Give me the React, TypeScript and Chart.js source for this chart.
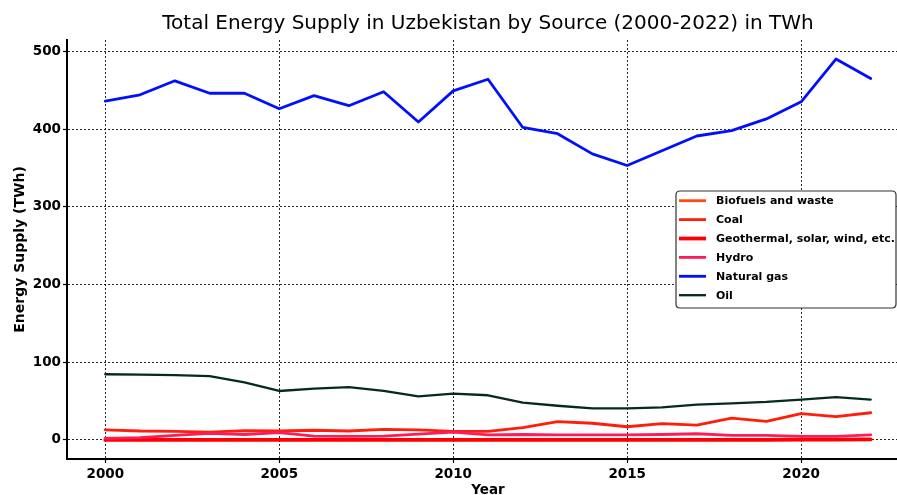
import { useEffect, useRef } from "react";
import { Chart, registerables } from "chart.js";

Chart.register(...registerables);

const years = [2000, 2001, 2002, 2003, 2004, 2005, 2006, 2007, 2008, 2009, 2010, 2011, 2012, 2013, 2014, 2015, 2016, 2017, 2018, 2019, 2020, 2021, 2022];

const biofuels = [0.4, 0.4, 0.4, 0.4, 0.4, 0.4, 0.4, 0.4, 0.4, 0.4, 0.4, 0.4, 0.4, 0.4, 0.4, 0.4, 0.4, 0.4, 0.4, 0.4, 0.4, 0.4, 0.4];
const coal = [13, 11.5, 11, 10, 12, 11.5, 12.5, 11.5, 13.5, 13, 11, 11, 16, 23.5, 21.5, 17, 21, 19, 28, 24, 34, 30, 35];
const geothermal = [0, 0, 0, 0, 0, 0, 0, 0, 0, 0, 0, 0, 0, 0, 0, 0, 0, 0, 0, 0, 0.3, 0.5, 0.8];
const hydro = [2, 3, 6, 8.5, 7, 9.5, 5, 4.5, 5, 7.5, 10, 6.5, 7, 6.5, 6.5, 6.5, 7, 8, 6, 6, 4.5, 4.5, 6.5];
const naturalGas = [436, 444, 462, 446, 446, 426, 443, 430, 448, 409, 449, 464, 402, 394, 368, 353, 372, 391, 398, 413, 435, 490, 465];
const oil = [84.5, 84, 83.5, 82, 74, 63, 66, 68, 63, 56, 59.5, 57.5, 48, 44, 40.5, 40.5, 42, 45.5, 47, 49, 52, 55, 52];

const seriesNames = ["Biofuels and waste", "Coal", "Geothermal, solar, wind, etc.", "Hydro", "Natural gas", "Oil"];
const seriesValues = [biofuels, coal, geothermal, hydro, naturalGas, oil];
const seriesColors = ["#ff4a10", "#ff1e0a", "#ff0000", "#ff1a5a", "#0010ff", "#062a1c"];
const seriesWidths = [2.8, 2.8, 3.8, 2.8, 2.8, 2.3];

const xTicks = [2000, 2005, 2010, 2015, 2020];
const yTicks = [0, 100, 200, 300, 400, 500];

const FONT = "DejaVu Sans";

const boxLegend = {
  id: "boxLegend",
  afterDraw(chart: any) {
    const { ctx, chartArea } = chart;
    const left = chartArea.right - 233;
    const top = chartArea.top + 151;
    const width = 220;
    const rowH = 18.9;
    const height = 117;
    ctx.save();
    ctx.beginPath();
    const r = 4;
    ctx.moveTo(left + r, top);
    ctx.lineTo(left + width - r, top);
    ctx.quadraticCurveTo(left + width, top, left + width, top + r);
    ctx.lineTo(left + width, top + height - r);
    ctx.quadraticCurveTo(left + width, top + height, left + width - r, top + height);
    ctx.lineTo(left + r, top + height);
    ctx.quadraticCurveTo(left, top + height, left, top + height - r);
    ctx.lineTo(left, top + r);
    ctx.quadraticCurveTo(left, top, left + r, top);
    ctx.closePath();
    ctx.fillStyle = "#ffffff";
    ctx.fill();
    ctx.lineWidth = 1.2;
    ctx.strokeStyle = "#333333";
    ctx.stroke();
    ctx.font = `bold 11px "${FONT}"`;
    ctx.textBaseline = "middle";
    ctx.textAlign = "left";
    chart.data.datasets.forEach((ds: any, i: number) => {
      const cy = top + 9.7 + i * rowH;
      ctx.beginPath();
      ctx.strokeStyle = ds.borderColor;
      ctx.lineWidth = ds.borderWidth;
      ctx.lineCap = "butt";
      ctx.moveTo(left + 3, cy);
      ctx.lineTo(left + 30, cy);
      ctx.stroke();
      ctx.fillStyle = "#000000";
      ctx.fillText(ds.label, left + 40, cy + 0.5);
    });
    ctx.restore();
  },
};

export default function App() {
  const ref = useRef<HTMLCanvasElement>(null);

  useEffect(() => {
    const tickFont = { family: FONT, size: 13.5, weight: "bold" as const };
    const datasets = seriesNames.map((name, i) => ({
      label: name,
      data: years.map((yr, j) => ({ x: yr, y: seriesValues[i][j] })),
      borderColor: seriesColors[i],
      backgroundColor: seriesColors[i],
      borderWidth: seriesWidths[i],
      pointRadius: 0,
      tension: 0,
      fill: false,
      yAxisID: "y",
      borderJoinStyle: "round" as const,
      borderCapStyle: "round" as const,
      order: seriesNames.length - i,
    }));

    const gridOpts = {
      color: "rgba(0,0,0,0.85)",
      lineWidth: 1,
      drawTicks: true,
      tickLength: 4,
      tickColor: "#000",
      tickWidth: 1.2,
    };

    const chart = new Chart(ref.current!, {
      type: "line",
      data: { datasets },
      plugins: [boxLegend],
      options: {
        animation: false,
        responsive: false,
        devicePixelRatio: 1,
        events: [],
        layout: { padding: 0 },
        plugins: {
          legend: { display: false },
          tooltip: { enabled: false },
          title: {
            display: true,
            text: "Total Energy Supply in Uzbekistan by Source (2000-2022) in TWh",
            color: "#000",
            font: { family: FONT, size: 20, weight: "normal" },
            padding: { top: 12, bottom: 4 },
          },
        },
        scales: {
          x: {
            type: "linear",
            min: 1998.9,
            max: 2023.1,
            afterBuildTicks: (s: any) => {
              s.ticks = xTicks.map((v) => ({ value: v }));
            },
            afterFit: (s: any) => {
              s.height = 51;
            },
            ticks: {
              color: "#000",
              font: tickFont,
              padding: 3,
              maxRotation: 0,
              autoSkip: false,
              callback: (v: any) => String(v),
            },
            grid: gridOpts,
            border: { display: true, color: "#000", width: 2, dash: [2, 2] },
            title: {
              display: true,
              text: "Year",
              color: "#000",
              font: { family: FONT, size: 13.5, weight: "bold" },
              padding: { top: 0, bottom: 11 },
            },
          },
          y: {
            type: "linear",
            position: "left",
            min: -24.5,
            max: 514.5,
            afterBuildTicks: (s: any) => {
              s.ticks = yTicks.map((v) => ({ value: v }));
            },
            afterFit: (s: any) => {
              s.width = 67;
            },
            ticks: {
              color: "#000",
              font: tickFont,
              padding: 2,
              autoSkip: false,
              callback: (v: any) => String(v),
            },
            grid: gridOpts,
            border: { display: true, color: "#000", width: 2, dash: [2, 2] },
            title: {
              display: true,
              text: "Energy Supply (TWh)",
              color: "#000",
              font: { family: FONT, size: 14, weight: "bold" },
              padding: { top: 12, bottom: 0 },
            },
          },
          yRight: {
            type: "linear",
            position: "right",
            min: -24.5,
            max: 514.5,
            afterFit: (s: any) => {
              s.width = 67;
            },
            ticks: { display: false },
            grid: { display: false, drawOnChartArea: false, drawTicks: false },
            border: { display: false },
            title: { display: false },
          },
        },
      },
    } as any);
    return () => chart.destroy();
  }, []);

  return (
    <div
      style={{
        position: "fixed",
        left: 0,
        top: 0,
        width: 897,
        height: 495,
        overflow: "hidden",
        background: "#ffffff",
      }}
    >
      <canvas ref={ref} width={976} height={510} style={{ display: "block", width: 976, height: 510 }} />
    </div>
  );
}
